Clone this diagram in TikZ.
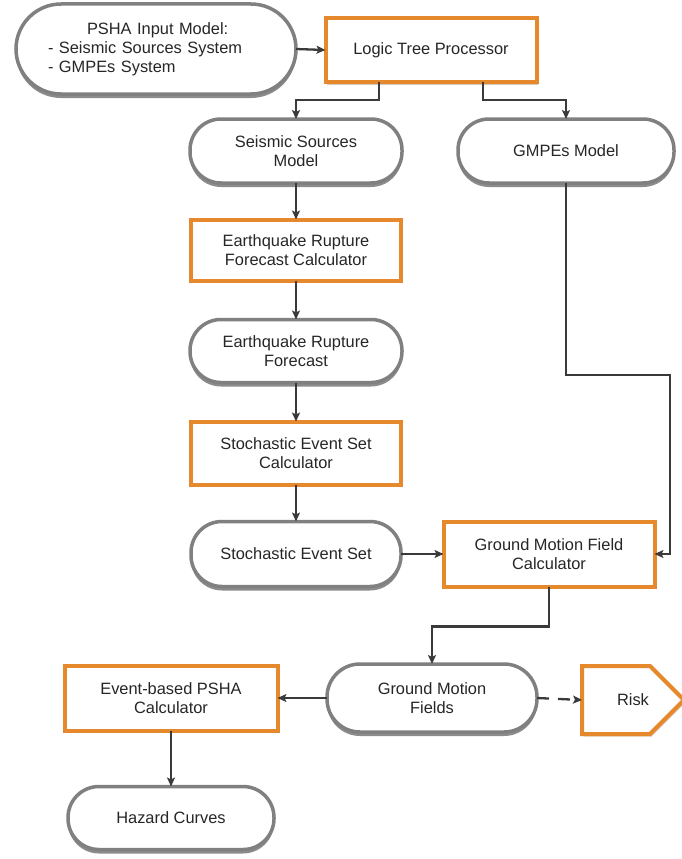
\documentclass[tikz,border=0pt]{standalone}
\usepackage{fontspec}
\setmainfont{Liberation Sans}
\usetikzlibrary{arrows.meta,shadows,shapes.symbols,calc}

\definecolor{procorange}{RGB}{230,136,44}
\definecolor{pillgray}{RGB}{128,128,128}
\definecolor{linkgray}{RGB}{58,58,58}
\definecolor{txtgray}{RGB}{38,38,38}

\tikzset{
  basetext/.style={font=\fontsize{16.4}{19}\selectfont, text=txtgray, align=center, inner sep=0pt, outer sep=0pt},
  pill/.style={basetext, rectangle, rounded corners=31pt, draw=pillgray, line width=3.5pt, fill=white,
    drop shadow={shadow xshift=0pt, shadow yshift=-4pt, opacity=0.6, fill=black!75}},
  procbox/.style={basetext, rectangle, draw=procorange, line width=4pt, fill=white,
    drop shadow={shadow xshift=1.5pt, shadow yshift=-2.5pt, opacity=0.3, fill=procorange!60!black}},
  arr/.style={draw=linkgray, line width=2.3pt, -{Stealth[length=9pt,width=8pt,inset=2pt]}},
}

\begin{document}
\begin{tikzpicture}[x=1pt, y=-1pt]
  \useasboundingbox[fill=white] (0,0) rectangle (682,859);

  % input model
  \node[pill, rounded corners=45pt, minimum width=280pt, minimum height=90pt, text width=216pt, align=left]
    (input) at (156,49) {\hspace*{39pt}PSHA Input Model:\\- Seismic Sources System\\- GMPEs System};

  % logic tree
  \node[procbox, minimum width=211pt, minimum height=64pt] (ltp) at (431,50) {Logic Tree Processor};

  % models
  \node[pill, minimum width=212pt, minimum height=64pt] (ssm) at (296,151) {Seismic Sources\\Model};
  \node[pill, minimum width=216pt, minimum height=64pt] (gmpes) at (566,151) {GMPEs Model};

  % rupture chain
  \node[procbox, minimum width=210pt, minimum height=61pt] (erfc) at (296,250) {Earthquake Rupture\\Forecast Calculator};
  \node[pill, minimum width=212pt, minimum height=63pt] (erf) at (296,351) {Earthquake Rupture\\Forecast};
  \node[procbox, minimum width=210pt, minimum height=63pt] (sesc) at (296,453) {Stochastic Event Set\\Calculator};
  \node[pill, minimum width=210pt, minimum height=65pt] (ses) at (296,554) {Stochastic Event Set};

  % ground motion
  \node[procbox, minimum width=211pt, minimum height=65pt] (gmfc) at (549,554) {Ground Motion Field\\Calculator};
  \node[pill, minimum width=210pt, minimum height=68pt, rounded corners=33pt] (gmf) at (432,698) {Ground Motion\\Fields};

  % outputs: the risk pointer body spans 582..650, its tip runs past the edge
  \node[procbox, shape=signal, signal to=east, signal pointer angle=90, minimum width=102pt, minimum height=68pt,
        rounded corners=0pt] (risk) at (616,700) {\hspace*{17pt}Risk\hspace*{-17pt}};
  \node[procbox, minimum width=213pt, minimum height=65pt] (epc) at (171,698) {Event-based PSHA\\Calculator};
  \node[pill, minimum width=206pt, minimum height=63pt] (haz) at (171,818) {Hazard Curves};

  % connectors
  \coordinate (gmbend) at (670,375);
  \draw[arr] (input.east) -- (ltp.west);
  \draw[arr] ($(ltp.south)+(-52,0)$) -- ++(0,18) -| (ssm.north);
  \draw[arr] ($(ltp.south)+(52,0)$) -- ++(0,18) -| (gmpes.north);
  \draw[arr] (ssm.south) -- (erfc.north);
  \draw[arr] (erfc.south) -- (erf.north);
  \draw[arr] (erf.south) -- (sesc.north);
  \draw[arr] (sesc.south) -- (ses.north);
  \draw[arr] (gmpes.south) |- (gmbend) |- (gmfc.east);
  \draw[arr] (ses.east) -- (gmfc.west);
  \draw[arr] (gmfc.south) -- ++(0,40) -| (gmf.north);
  \draw[arr, dash pattern=on 12pt off 9pt] (gmf.east) -- (risk.west);
  \draw[arr] (gmf.west) -- (epc.east);
  \draw[arr] (epc.south) -- (haz.north);
\end{tikzpicture}
\end{document}
